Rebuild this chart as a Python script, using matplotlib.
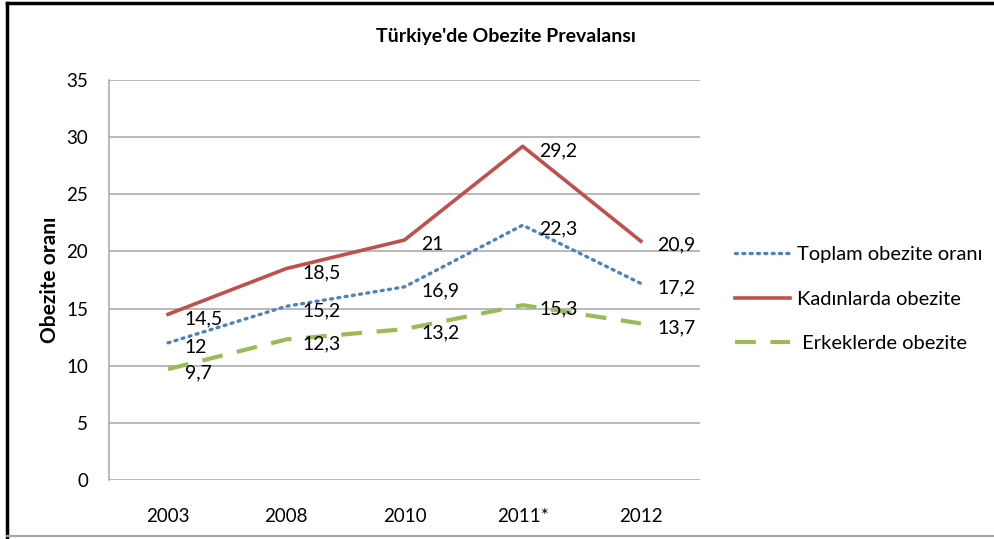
import matplotlib
matplotlib.use("Agg")
import matplotlib.pyplot as plt
from matplotlib.lines import Line2D

plt.rcParams['font.family'] = ['Lato', 'DejaVu Sans']

years = ["2003", "2008", "2010", "2011*", "2012"]
toplam = [12, 15.2, 16.9, 22.3, 17.2]
kadin = [14.5, 18.5, 21, 29.2, 20.9]
erkek = [9.7, 12.3, 13.2, 15.3, 13.7]

labels = ["Toplam obezite oranı", "Kadınlarda obezite", " Erkeklerde obezite"]
colors = ["#4F81BD", "#C0504D", "#9BBB59"]


def fmt(v):
    # Turkish decimal comma, integers without decimals
    return str(int(v)) if float(v).is_integer() else str(v).replace(".", ",")


fig = plt.figure(figsize=(9.95, 5.39), dpi=100)
ax = fig.add_axes([0.1095, 0.1095, 0.594, 0.742])

x = list(range(len(years)))
l1, = ax.plot(x, toplam, color=colors[0], lw=2.4, linestyle=(0, (0.6, 1.6)),
              dash_capstyle="round", zorder=3)
l2, = ax.plot(x, kadin, color=colors[1], lw=2.6, zorder=3)
l3, = ax.plot(x, erkek, color=colors[2], lw=3.0, linestyle=(0, (5, 3.5)), zorder=3)

for series in (toplam, kadin, erkek):
    for xi, v in zip(x, series):
        ax.annotate(fmt(v), (xi, v), xytext=(12, -3), textcoords="offset points",
                    ha="left", va="center", fontsize=14, color="black", zorder=4)

ax.set_xlim(-0.5, len(years) - 0.5)
ax.set_ylim(0, 35)
ax.set_yticks(range(0, 36, 5))
ax.set_xticks(x)
ax.set_xticklabels(years)
ax.tick_params(axis="both", length=0, labelsize=13.5, colors="black")
ax.tick_params(axis="y", pad=15)
ax.tick_params(axis="x", pad=20)
ax.yaxis.grid(True, color="#A6A6A6", lw=1.1)
ax.set_axisbelow(True)
for side in ("top", "right", "bottom"):
    ax.spines[side].set_visible(False)
ax.spines["left"].set_color("#A6A6A6")
ax.spines["left"].set_linewidth(1.1)

ax.set_ylabel("Obezite oranı", fontsize=15, fontweight="bold")
ax.yaxis.set_label_coords(-0.083, 0.5)
fig.text(0.508, 0.932, "Türkiye'de Obezite Prevalansı", ha="center", va="center",
         fontsize=14, fontweight="bold")

leg = fig.legend([l1, l2, l3], labels, loc="upper left", bbox_to_anchor=(0.7387, 0.543),
                 frameon=False, fontsize=14.5, handlelength=2.75, handletextpad=0.35,
                 labelspacing=1.35, borderpad=0, borderaxespad=0)

# outer chart border
fig.add_artist(Line2D([0.007, 0.007], [0.0, 0.995], color="black", lw=2.5))
fig.add_artist(Line2D([0.007, 1.0], [0.995, 0.995], color="black", lw=2.5))
fig.add_artist(Line2D([0.007, 1.0], [0.005, 0.005], color="#A6A6A6", lw=1.5))

fig.savefig("out.png", dpi=100)
